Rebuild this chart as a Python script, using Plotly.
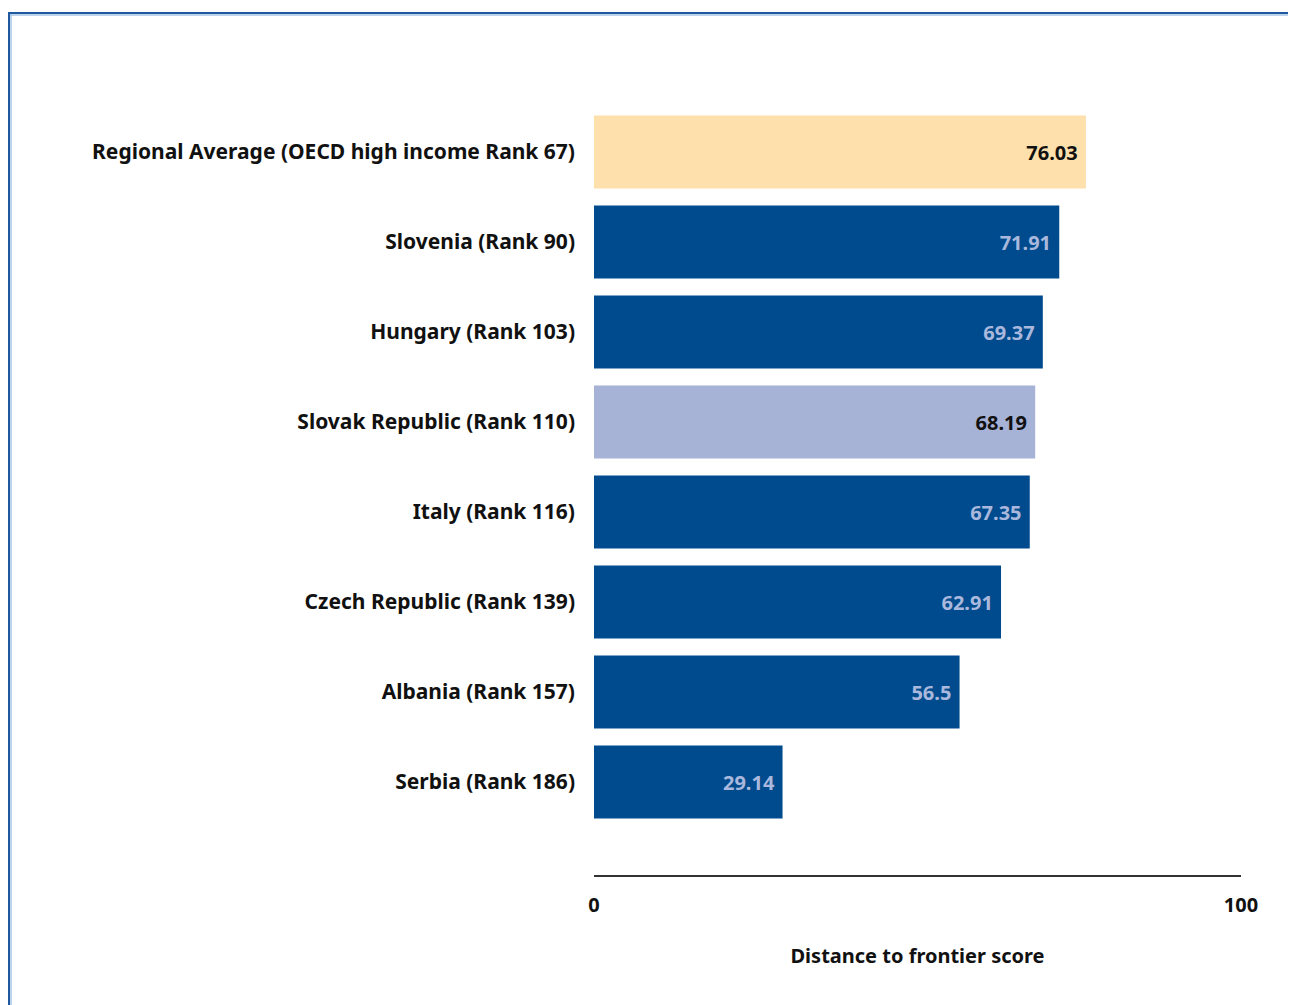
import plotly.graph_objects as go

categories = [
    "Regional Average (OECD high income Rank 67)",
    "Slovenia (Rank 90)",
    "Hungary (Rank 103)",
    "Slovak Republic (Rank 110)",
    "Italy (Rank 116)",
    "Czech Republic (Rank 139)",
    "Albania (Rank 157)",
    "Serbia (Rank 186)",
]
values = [76.03, 71.91, 69.37, 68.19, 67.35, 62.91, 56.5, 29.14]
value_labels = ["76.03", "71.91", "69.37", "68.19", "67.35", "62.91", "56.5", "29.14"]
x_ticks = [0, 100]
x_tick_labels = ["0", "100"]

DARK = "#004b8d"
PEACH = "#fde0ac"
LAV = "#a6b2d6"
bar_colors = [PEACH, DARK, DARK, LAV, DARK, DARK, DARK, DARK]
text_colors = ["#111111", "#a9b8dc", "#a9b8dc", "#111111", "#a9b8dc", "#a9b8dc", "#a9b8dc", "#a9b8dc"]

FONT = "Noto Sans"
FS = 20

# page body has an 8px margin: figure coords = screen coords - 8
OFF = 8
W, H = 1296 - OFF, 1005 - OFF
L = 594 - OFF
R = W - (1241 - OFF)
T = 107 - OFF
B = H - (875 - OFF)
pw = W - L - R
ph = H - T - B

def px(x):
    return (x - OFF - L) / pw

def py(y):
    return (H - B - (y - OFF)) / ph

fig = go.Figure(go.Bar(
    x=values,
    y=categories,
    orientation="h",
    marker=dict(color=bar_colors, line=dict(width=0)),
    text=[v + "\u00a0" for v in value_labels],
    textposition="inside",
    insidetextanchor="end",
    textangle=0,
    textfont=dict(family=FONT, size=FS, color=text_colors, weight="bold"),
    width=0.81,
    hoverinfo="skip",
))

fig.update_layout(
    width=W, height=H,
    margin=dict(l=L, r=R, t=T, b=B, autoexpand=False),
    paper_bgcolor="white",
    plot_bgcolor="white",
    showlegend=False,
    font=dict(family=FONT, color="#111111"),
    xaxis=dict(
        range=[0, 100],
        tickvals=x_ticks,
        ticktext=x_tick_labels,
        showgrid=False,
        zeroline=False,
        showline=True,
        linecolor="#333333",
        linewidth=2,
        ticks="",
        ticklabelstandoff=11,
        tickfont=dict(family=FONT, size=FS, color="#111111", weight="bold"),
        title=dict(text="Distance to frontier score", standoff=32,
                   font=dict(family=FONT, size=FS, color="#111111", weight="bold")),
        fixedrange=True,
    ),
    yaxis=dict(
        categoryorder="array",
        categoryarray=categories,
        range=[8.033, -0.5],
        showgrid=False,
        zeroline=False,
        showline=False,
        ticks="",
        ticklabelstandoff=18,
        tickfont=dict(family=FONT, size=21, color="#111111", weight="bold"),
        fixedrange=True,
    ),
    shapes=[
        dict(type="line", xref="paper", yref="paper", x0=px(8), x1=px(1310), y0=py(13), y1=py(13),
             line=dict(color="#1f5aa0", width=2)),
        dict(type="line", xref="paper", yref="paper", x0=px(10), x1=px(1310), y0=py(15), y1=py(15),
             line=dict(color="#a9c4e6", width=1.5)),
        dict(type="line", xref="paper", yref="paper", x0=px(9), x1=px(9), y0=py(12), y1=py(1020),
             line=dict(color="#1f5aa0", width=2)),
        dict(type="line", xref="paper", yref="paper", x0=px(11), x1=px(11), y0=py(14), y1=py(1020),
             line=dict(color="#a9c4e6", width=1.5)),
    ],
)

fig.write_html("out.html")
